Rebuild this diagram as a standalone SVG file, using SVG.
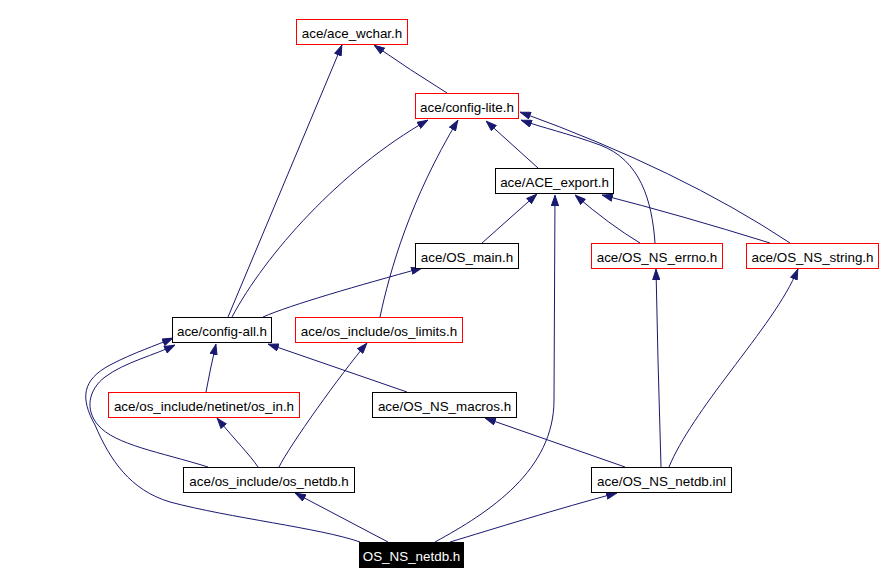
<svg xmlns="http://www.w3.org/2000/svg" width="883" height="584" viewBox="0 0 883 584">
<style>
.n rect{fill:#fff;stroke:#000;stroke-width:1}
.n.r rect{stroke:#f00}
.n text{font-family:"Liberation Sans",Arial,sans-serif;font-size:13.4px;fill:#000;text-anchor:middle}
.n.cur rect{fill:#000;stroke:#000}
.n.cur text{fill:#fff}
.e path{fill:none;stroke:#191970;stroke-width:1;marker-end:url(#a)}
</style>
<defs>
<marker id="a" viewBox="0 0 11 8" refX="11" refY="4" markerWidth="11" markerHeight="8" orient="auto" markerUnits="userSpaceOnUse">
<path d="M0.5,0.5 L10.5,4 L0.5,7.5 z" fill="#191970" stroke="#191970" stroke-width="1"/>
</marker>
</defs>
<rect width="883" height="584" fill="#fff"/>
<g id="edges" class="e">
<path d="M447,93 Q410,70 374,45"/>
<path d="M228,317 L342,45"/>
<path d="M232,317 C265,255 340,170 428,120"/>
<path d="M380,317 C390,270 410,200 458,120"/>
<path d="M538,168 L486,121"/>
<path d="M655,243 C652,200 640,160 600,145 C570,134 540,127 521,120"/>
<path d="M790,243 Q680,170 520,112"/>
<path d="M482,243 L537,194"/>
<path d="M640,243 Q610,225 575,195"/>
<path d="M770,243 Q680,215 602,195"/>
<path d="M435,542 C490,512 554,470 554,400 L555,195"/>
<path d="M263,317 C290,305 360,285 422,268"/>
<path d="M206,392 Q210,370 216,344"/>
<path d="M407,392 L268,344"/>
<path d="M208,467 C160,452 115,445 98,425 C85,410 88,390 105,377 C125,362 155,355 175,345"/>
<path d="M360,542 C320,528 230,518 170,502 C130,490 110,460 95,425 C80,398 82,380 110,365 C135,352 155,346 173,338"/>
<path d="M258,467 C250,455 235,440 217,418"/>
<path d="M279,467 C290,445 340,375 367,343"/>
<path d="M388,542 L295,493"/>
<path d="M450,542 C490,530 560,508 617,493"/>
<path d="M625,467 L485,418"/>
<path d="M661,467 L658,360 L656,269"/>
<path d="M669,467 C680,440 705,405 730,372 C760,332 785,300 798,269"/>
</g>
<g id="n_ace_wchar" class="n r"><rect x="296.5" y="19.5" width="111" height="25"/><text x="352" y="37.5">ace/ace_wchar.h</text></g>
<g id="n_config_lite" class="n r"><rect x="415.5" y="93.5" width="103" height="25"/><text x="467" y="111.5">ace/config-lite.h</text></g>
<g id="n_ACE_export" class="n"><rect x="495.5" y="168.5" width="118" height="25"/><text x="554.5" y="186.5">ace/ACE_export.h</text></g>
<g id="n_OS_main" class="n"><rect x="415.5" y="243.5" width="103" height="25"/><text x="467" y="261.5">ace/OS_main.h</text></g>
<g id="n_OS_NS_errno" class="n r"><rect x="591.5" y="243.5" width="131" height="25"/><text x="657" y="261.5">ace/OS_NS_errno.h</text></g>
<g id="n_OS_NS_string" class="n r"><rect x="746.5" y="243.5" width="132" height="25"/><text x="812.5" y="261.5">ace/OS_NS_string.h</text></g>
<g id="n_config_all" class="n"><rect x="172.5" y="317.5" width="99" height="25"/><text x="222" y="335.5">ace/config-all.h</text></g>
<g id="n_os_limits" class="n r"><rect x="295.5" y="317.5" width="167" height="25"/><text x="379" y="335.5">ace/os_include/os_limits.h</text></g>
<g id="n_os_in" class="n r"><rect x="108.5" y="392.5" width="191" height="25"/><text x="204" y="410.5">ace/os_include/netinet/os_in.h</text></g>
<g id="n_OS_NS_macros" class="n"><rect x="372.5" y="392.5" width="144" height="25"/><text x="444.5" y="410.5">ace/OS_NS_macros.h</text></g>
<g id="n_os_netdb" class="n"><rect x="183.5" y="467.5" width="171" height="25"/><text x="269" y="485.5">ace/os_include/os_netdb.h</text></g>
<g id="n_OS_NS_netdb_inl" class="n"><rect x="591.5" y="467.5" width="140" height="25"/><text x="661.5" y="485.5">ace/OS_NS_netdb.inl</text></g>
<g id="n_OS_NS_netdb_h" class="n cur"><rect x="359.5" y="542.5" width="104" height="25"/><text x="411.5" y="560.5">OS_NS_netdb.h</text></g>
</svg>
